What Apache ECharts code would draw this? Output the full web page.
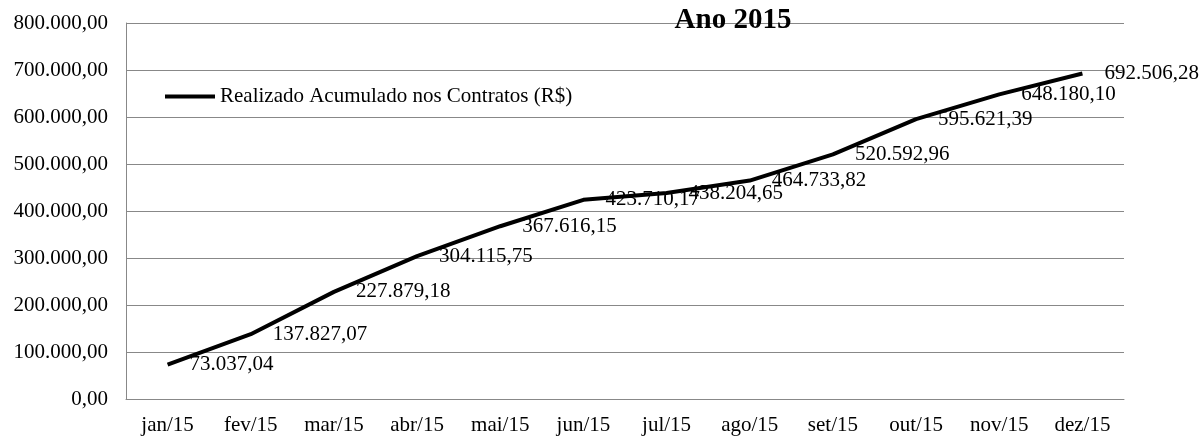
<!DOCTYPE html>
<html>
<head>
<meta charset="utf-8">
<script src="https://cdn.jsdelivr.net/npm/echarts@6/dist/echarts.min.js"></script>
<style>
html,body{margin:0;padding:0;background:#fff;}
#c{width:1201px;height:436px;}
</style>
</head>
<body>
<div id="c"></div>
<script>
const categories = ['jan/15','fev/15','mar/15','abr/15','mai/15','jun/15','jul/15','ago/15','set/15','out/15','nov/15','dez/15'];
const values = [73037.04, 137827.07, 227879.18, 304115.75, 367616.15, 423710.17, 438204.65, 464733.82, 520592.96, 595621.39, 648180.10, 692506.28];
const seriesName = 'Realizado Acumulado nos Contratos (R$)';
const titleText = 'Ano 2015';

const FONT = '"Liberation Serif", "Times New Roman", serif';
function br(v, dec) {
  const s = Number(v).toFixed(dec);
  const [i, d] = s.split('.');
  return i.replace(/\B(?=(\d{3})+(?!\d))/g, '.') + ',' + d;
}

const chart = echarts.init(document.getElementById('c'), null, {renderer: 'canvas'});
chart.setOption({
  animation: false,
  backgroundColor: '#fff',
  title: {
    text: titleText,
    left: 728, top: 1, textAlign: 'center',
    textStyle: {fontFamily: FONT, fontSize: 29, fontWeight: 'bold', color: '#000'}
  },
  legend: {
    left: 160, top: 81,
    itemWidth: 50, itemHeight: 4, itemGap: 6,
    icon: 'rect',
    textStyle: {fontFamily: FONT, fontSize: 21, color: '#000'},
    data: [{name: seriesName, icon: 'rect', itemStyle: {color: '#000', opacity: 1}}]
  },
  grid: {left: 126, right: 77, top: 23, bottom: 35, containLabel: false},
  xAxis: {
    type: 'category',
    data: categories,
    boundaryGap: true,
    axisLine: {show: true, lineStyle: {color: '#888', width: 1}},
    axisTick: {show: false},
    axisLabel: {fontFamily: FONT, fontSize: 21, color: '#000', margin: 16}
  },
  yAxis: {
    type: 'value',
    min: 0, max: 800000, interval: 100000,
    axisLine: {show: true, lineStyle: {color: '#888', width: 1}},
    axisTick: {show: false},
    splitLine: {show: true, lineStyle: {color: '#888', width: 1}},
    axisLabel: {fontFamily: FONT, fontSize: 21, color: '#000', margin: 18,
      formatter: v => br(v, 2)}
  },
  series: [{
    name: seriesName,
    type: 'line',
    data: values,
    symbol: 'circle',
    symbolSize: 2,
    showSymbol: true,
    itemStyle: {color: 'rgba(0,0,0,0)', borderWidth: 0},
    lineStyle: {color: '#000', width: 4},
    label: {
      show: true, position: 'right', distance: 21, offset: [0, 2],
      fontFamily: FONT, fontSize: 21, color: '#000',
      formatter: p => br(p.value, 2)
    },
    labelLayout: {hideOverlap: false}
  }]
});
</script>
</body>
</html>
